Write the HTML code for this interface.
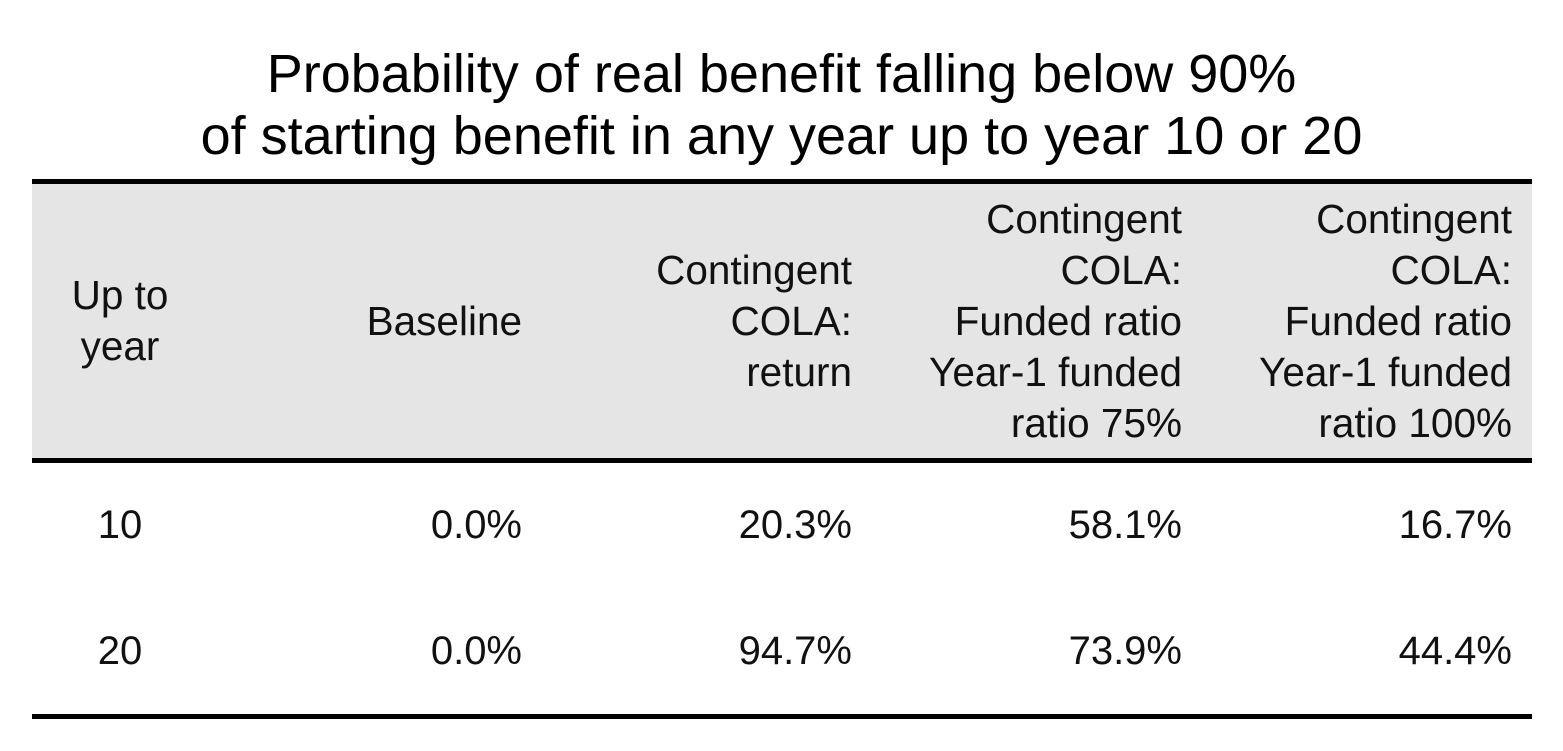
<!DOCTYPE html>
<html><head><meta charset="utf-8">
<style>
html,body{margin:0;padding:0;background:#fff;}
body{width:1563px;height:751px;position:relative;overflow:hidden;font-family:"Liberation Sans",Arial,sans-serif;color:#111;}
#title{position:absolute;left:0;top:43px;width:1563px;text-align:center;font-size:54px;line-height:62px;color:#000;}
table{position:absolute;left:32px;top:179px;border-collapse:collapse;table-layout:fixed;width:1500px;}
th,td{font-weight:normal;font-size:40px;line-height:51px;padding:0 20px 0 0;text-align:right;vertical-align:middle;}
th{font-size:40.5px;}
thead tr{background:#e5e5e5;height:279px;border-top:5px solid #000;border-bottom:5px solid #000;}
tbody tr{height:128px;}
tbody tr:last-child{border-bottom:5px solid #000;}
th:first-child,td:first-child{text-align:center;padding:0;}
</style></head>
<body>
<div id="title">Probability of real benefit falling below 90%<br>of starting benefit in any year up to year 10 or 20</div>
<table>
<colgroup><col style="width:176px"><col style="width:334px"><col style="width:330px"><col style="width:330px"><col style="width:330px"></colgroup>
<thead>
<tr>
<th>Up to<br>year</th>
<th>Baseline</th>
<th>Contingent<br>COLA:<br>return</th>
<th>Contingent<br>COLA:<br>Funded ratio<br>Year-1 funded<br>ratio 75%</th>
<th>Contingent<br>COLA:<br>Funded ratio<br>Year-1 funded<br>ratio 100%</th>
</tr>
</thead>
<tbody>
<tr>
<td>10</td>
<td>0.0%</td>
<td>20.3%</td>
<td>58.1%</td>
<td>16.7%</td>
</tr>
<tr>
<td>20</td>
<td>0.0%</td>
<td>94.7%</td>
<td>73.9%</td>
<td>44.4%</td>
</tr>
</tbody>
</table>
</body></html>
